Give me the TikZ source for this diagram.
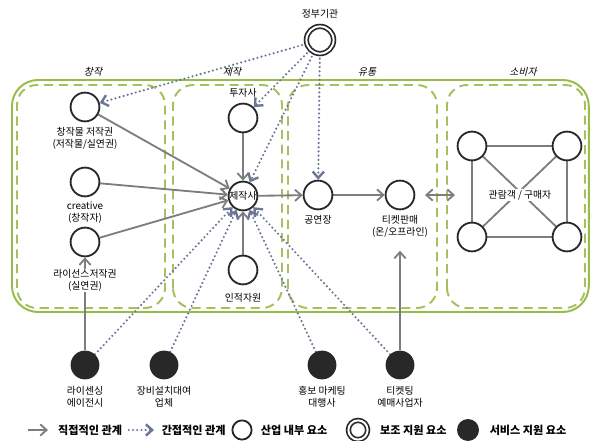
\documentclass[tikz,border=0pt]{standalone}
\usepackage{fontspec}
\setmainfont{Noto Sans CJK KR}
\newfontfamily\slantkr{Noto Sans CJK KR}[FakeSlant=0.25]
\definecolor{kgreen}{RGB}{150,190,70}
\definecolor{kdash}{RGB}{165,192,95}
\definecolor{kgray}{RGB}{125,125,125}
\definecolor{kdot}{RGB}{108,118,150}
\definecolor{kdark}{RGB}{40,40,40}
\usetikzlibrary{arrows.meta,backgrounds}

\begin{document}
\begin{tikzpicture}[
  font=\fontsize{7}{8.5}\selectfont,
  inner/.style={circle, draw=kdark, line width=1.3pt, fill=white, minimum size=0.72cm, inner sep=0pt},
  support/.style={circle, draw=kdark, line width=1.2pt, double=white, double distance=1.4pt, fill=white, minimum size=0.68cm, inner sep=0pt},
  service/.style={circle, fill=kdark, minimum size=0.72cm, inner sep=0pt},
  direct/.style={draw=kgray, line width=1.3pt, -{Straight Barb[length=4.5pt,width=8pt]}},
  indirect/.style={draw=kdot, line width=1.7pt, line cap=round, dash pattern=on 0pt off 3pt, -{Straight Barb[length=4.5pt,width=8pt]}},
  link/.style={draw=kgray, line width=1.3pt},
  panel/.style={draw=kdash, line width=1.4pt, dash pattern=on 6.5pt off 4pt, rounded corners=0.5cm},
  grouplabel/.style={font=\fontsize{7}{8.5}\slantkr},
  keytext/.style={anchor=west, font=\fontsize{7.9}{9}\selectfont\bfseries, text=black},
]
  \useasboundingbox (0,0) rectangle (14.775,11.025);

  % creation
  \node[inner, label={[align=center]below:창작물 저작권\\(저작물/실연권)}] (cw) at (2.125,8.35) {};
  \node[inner, label={[align=center]below:creative\\(창작자)}] (cr) at (2.125,6.475) {};
  \node[inner, label={[align=center, fill=white, inner sep=0.5pt, yshift=-8pt]below:라이선스저작권\\(실연권)}] (lc) at (2.125,4.975) {};

  % production
  \node[inner, label=above:투자사] (inv) at (6.075,8.075) {};
  \node[inner] (prod) at (6.075,6.125) {제작사};
  \node[inner, label={[yshift=-2pt]below:인적자원}] (hr) at (6.075,4.275) {};

  % distribution
  \node[inner, label=below:공연장] (hall) at (7.95,6.15) {};
  \node[inner, label={[name=tklab, align=center]below:티켓판매\\(온/오프라인)}] (tk) at (10.0,6.15) {};

  % consumers
  \node[inner] (c1) at (11.8,7.375) {};
  \node[inner] (c2) at (14.175,7.375) {};
  \node[inner] (c3) at (11.8,5.1) {};
  \node[inner] (c4) at (14.175,5.1) {};
  \node[fill=white, inner sep=1pt] (buyer) at (13.0,6.15) {관람객 / 구매자};
  \coordinate (dl) at (10.625,6.15);
  \coordinate (dr) at (11.375,6.15);

  % government
  \node[support, label={[yshift=2pt]above:정부기관}] (gov) at (8.0,10.025) {};

  % service support
  \node[service, label={[align=center, yshift=-1pt]below:라이센싱\\에이전시}] (agency) at (2.125,1.9) {};
  \node[service, label={[align=center, yshift=-1pt]below:장비설치대여\\업체}] (rental) at (4.1,1.9) {};
  \node[service, label={[align=center, yshift=-1pt]below:홍보 마케팅\\대행사}] (promo) at (8.05,1.9) {};
  \node[service, label={[align=center, yshift=-1pt]below:티켓팅\\예매사업자}] (ticketing) at (10.0,1.9) {};

  % group labels
  \node[grouplabel] (g1) at (2.325,9.225) {창작};
  \node[grouplabel] (g2) at (5.8,9.225) {제작};
  \node[grouplabel] (g3) at (9.175,9.225) {유통};
  \node[grouplabel] (g4) at (13.075,9.225) {소비자};

  \begin{scope}[on background layer]
    % frame and panels
    \draw[kgreen, line width=1.4pt, rounded corners=0.65cm] (0.3,3.225) rectangle (14.72,9.025);
    \draw[panel] (0.425,3.325) rectangle (4.125,8.9);
    \draw[panel] (4.325,3.325) rectangle (7.05,8.9);
    \draw[panel] (7.2,3.325) rectangle (10.925,8.9);
    \draw[panel] (11.175,3.325) rectangle (14.625,8.9);

    % direct relations
    \draw[direct] (cw) -- (prod);
    \draw[direct] (cr) -- (prod);
    \draw[direct] (lc) -- (prod);
    \draw[direct] (inv) -- (prod);
    \draw[direct] (hr) -- (prod);
    \draw[direct] (prod) -- (hall);
    \draw[direct] (hall) -- (tk);
    \draw[direct, {Straight Barb[length=4.5pt,width=8pt]}-{Straight Barb[length=4.5pt,width=8pt]}] (dl) -- (dr);
    \draw[direct] (agency) -- (lc);
    \draw[direct, shorten >=6pt] (ticketing) -- (tklab);

    % consumer network
    \draw[link] (c1) -- (c2);
    \draw[link] (c2) -- (c4);
    \draw[link] (c4) -- (c3);
    \draw[link] (c3) -- (c1);
    \draw[link] (c1) -- (c4);
    \draw[link] (c2) -- (c3);

    % indirect relations
    \draw[indirect] (gov) -- (cw);
    \draw[indirect] (gov) -- (inv);
    \draw[indirect] (gov) -- (prod);
    \draw[indirect] (gov) -- (hall);
    \draw[indirect] (agency) -- (prod);
    \draw[indirect] (rental) -- (prod);
    \draw[indirect] (promo) -- (prod);
    \draw[indirect] (ticketing) -- (prod);
  \end{scope}

  % legend
  \coordinate (ka) at (0.7,0.275);
  \coordinate (kb) at (1.2,0.275);
  \draw[direct] (ka) -- (kb);
  \node[keytext] (k1) at (1.33,0.275) {직접적인 관계};
  \coordinate (kc) at (3.22,0.275);
  \coordinate (kd) at (3.85,0.275);
  \draw[indirect] (kc) -- (kd);
  \node[keytext] (k2) at (3.92,0.275) {간접적인 관계};
  \node[inner, minimum size=0.48cm] (kin) at (6.05,0.275) {};
  \node[keytext] (k3) at (6.4,0.275) {산업 내부 요소};
  \node[support, minimum size=0.48cm] (ksup) at (8.95,0.275) {};
  \node[keytext] (k4) at (9.38,0.275) {보조 지원 요소};
  \node[service, minimum size=0.55cm] (ksvc) at (11.7,0.275) {};
  \node[keytext] (k5) at (12.12,0.275) {서비스 지원 요소};
\end{tikzpicture}
\end{document}
